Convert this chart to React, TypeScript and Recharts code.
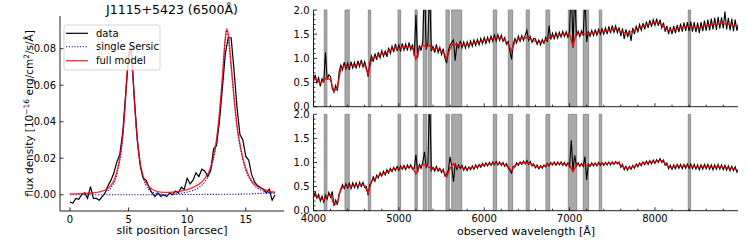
import React from "react";
import { LineChart, ComposedChart, Line, XAxis, YAxis, ReferenceArea } from "recharts";

const FONT = "'DejaVu Sans', sans-serif";

// ---- left panel: slit profile at 6500 A ----
const slitPos = [
  0, 0.25, 0.5, 0.75, 1, 1.25, 1.5, 1.75, 2, 2.25, 2.5, 2.75, 3, 3.25, 3.5, 3.75, 4, 4.25, 4.5, 4.75,
  5, 5.25, 5.5, 5.75, 6, 6.25, 6.5, 6.75, 7, 7.25, 7.5, 7.75, 8, 8.25, 8.5, 8.75, 9, 9.25, 9.5, 9.75,
  10, 10.25, 10.5, 10.75, 11, 11.25, 11.5, 11.75, 12, 12.25, 12.5, 12.75, 13, 13.25, 13.5, 13.75, 14, 14.25, 14.5, 14.75,
  15, 15.25, 15.5, 15.75, 16, 16.25, 16.5, 16.75, 17, 17.25, 17.5,
];
const slitFlux = [
  -0.004, -0.0045, -0.002, -0.0025, 0.0, 0.001, -0.002, 0.0045, -0.002, -0.002, -0.003, -0.001, 0.001, 0.005, 0.008, 0.012, 0.018, 0.022, 0.034, 0.055,
  0.076, 0.079, 0.052, 0.03, 0.016, 0.009, 0.008, 0.004, 0.001, -0.001, 0.001, -0.001, 0.0, -0.001, 0.001, 0.0, 0.002, 0.001, 0.004, 0.003,
  0.009, 0.006, 0.008, 0.012, 0.01, 0.014, 0.013, 0.01, 0.013, 0.025, 0.027, 0.04, 0.058, 0.077, 0.086, 0.086, 0.068, 0.048, 0.033, 0.03,
  0.021, 0.019, 0.011, 0.007, 0.005, 0.004, 0.003, 0.001, 0.003, -0.003, 0.0,
];
const modelPos = [
  0, 0.5, 1, 1.5, 2, 2.5, 3, 3.25, 3.5, 3.75, 4, 4.25, 4.5, 4.7, 4.85, 5.0, 5.12, 5.25, 5.4, 5.55, 5.75, 6.0, 6.25, 6.5,
  7, 7.5, 8, 8.5, 9, 9.5, 10, 10.5, 11, 11.5, 12, 12.25, 12.5, 12.75, 13, 13.2, 13.38, 13.55, 13.75, 14, 14.25, 14.5, 14.75,
  15, 15.5, 16, 16.5, 17, 17.5,
];
const modelFlux = [
  0.0004, 0.0005, 0.0006, 0.0008, 0.0011, 0.0016, 0.0026, 0.0036, 0.0052, 0.0078, 0.0125, 0.02, 0.032, 0.048, 0.064, 0.077, 0.081, 0.076, 0.062, 0.046, 0.03, 0.017, 0.01, 0.0065,
  0.003, 0.0017, 0.0013, 0.0013, 0.0016, 0.0021, 0.0028, 0.004, 0.0058, 0.0088, 0.015, 0.021, 0.03, 0.044, 0.064, 0.082, 0.091, 0.086, 0.071, 0.053, 0.038, 0.028, 0.02,
  0.0145, 0.0075, 0.0045, 0.003, 0.002, 0.0014,
];
const sersicFlatPos = [0, 3, 6, 9, 12, 15, 16.5, 17.5];
const sersicFlat = [0, 0, 0, 0.0001, 0.0002, 0.0004, 0.0008, 0.0012];
const sersicAPos = [3, 3.5, 4, 4.5, 4.85, 5.12, 5.4, 5.75, 6.25, 7, 8];
const sersicA = [0.0015, 0.0038, 0.011, 0.031, 0.063, 0.08, 0.061, 0.029, 0.009, 0.0015, 0.0003];
const sersicBPos = [9, 10, 11, 11.5, 12, 12.5, 13, 13.38, 13.75, 14.25, 14.75, 15.5, 16.5, 17.5];
const sersicB = [0.0005, 0.0015, 0.004, 0.007, 0.0135, 0.029, 0.063, 0.09, 0.07, 0.037, 0.019, 0.007, 0.002, 0.0007];

// ---- right panels: spectra ----
// model grid (40 A)
const wave = [
  4000, 4040, 4080, 4120, 4160, 4200, 4240, 4280, 4320, 4360,
  4400, 4440, 4480, 4520, 4560, 4600, 4640, 4680, 4720, 4760,
  4800, 4840, 4880, 4920, 4960, 5000, 5040, 5080, 5120, 5160,
  5200, 5240, 5280, 5320, 5360, 5400, 5440, 5480, 5520, 5560,
  5600, 5640, 5680, 5720, 5760, 5800, 5840, 5880, 5920, 5960,
  6000, 6040, 6080, 6120, 6160, 6200, 6240, 6280, 6320, 6360,
  6400, 6440, 6480, 6520, 6560, 6600, 6640, 6680, 6720, 6760,
  6800, 6840, 6880, 6920, 6960, 7000, 7040, 7080, 7120, 7160,
  7200, 7240, 7280, 7320, 7360, 7400, 7440, 7480, 7520, 7560,
  7600, 7640, 7680, 7720, 7760, 7800, 7840, 7880, 7920, 7960,
  8000, 8040, 8080, 8120, 8160, 8200, 8240, 8280, 8320, 8360,
  8400, 8440, 8480, 8520, 8560, 8600, 8640, 8680, 8720, 8760,
  8800, 8840, 8880, 8920, 8960,
];
const topModel = [
  0.6, 0.55, 0.48, 0.55, 0.6, 0.55, 0.32, 0.4, 0.78, 0.85,
  0.82, 0.86, 0.84, 0.87, 0.9, 0.86, 0.68, 0.98, 1.02, 1.05,
  1.1, 1.08, 1.15, 1.18, 1.22, 1.2, 1.24, 1.22, 1.25, 1.22,
  0.98, 1.2, 1.28, 1.24, 1.27, 1.18, 1.22, 1.16, 1.13, 1.0,
  1.2, 1.32, 1.26, 1.3, 1.27, 1.28, 1.3, 1.32, 1.33, 1.35,
  1.37, 1.38, 1.4, 1.42, 1.43, 1.42, 1.38, 1.3, 1.15, 1.35,
  1.4, 1.42, 1.43, 1.42, 1.38, 1.35, 1.33, 1.34, 1.38, 1.42,
  1.46, 1.47, 1.48, 1.5, 1.49, 1.5, 1.25, 1.52, 1.5, 1.51,
  1.5, 1.52, 1.52, 1.54, 1.55, 1.56, 1.57, 1.58, 1.6, 1.6,
  1.55, 1.53, 1.52, 1.55, 1.58, 1.62, 1.65, 1.68, 1.7, 1.72,
  1.74, 1.74, 1.7, 1.62, 1.58, 1.58, 1.6, 1.62, 1.64, 1.66,
  1.66, 1.65, 1.64, 1.62, 1.66, 1.67, 1.69, 1.7, 1.71, 1.72,
  1.72, 1.71, 1.7, 1.68, 1.67,
];
const botModel = [
  0.33, 0.3, 0.25, 0.22, 0.3, 0.33, 0.12, 0.16, 0.46, 0.5,
  0.52, 0.5, 0.53, 0.52, 0.55, 0.52, 0.36, 0.62, 0.66, 0.72,
  0.76, 0.78, 0.82, 0.85, 0.87, 0.88, 0.9, 0.89, 0.92, 0.9,
  0.76, 0.92, 0.96, 0.94, 0.9, 0.86, 0.88, 0.84, 0.82, 0.7,
  0.88, 0.98, 0.9, 0.92, 0.88, 0.87, 0.89, 0.9, 0.92, 0.94,
  0.95, 0.96, 0.97, 0.98, 0.98, 0.97, 0.95, 0.92, 0.82, 0.94,
  0.97, 0.99, 1.0, 0.99, 0.96, 0.92, 0.9, 0.91, 0.94, 0.96,
  0.98, 0.97, 0.98, 0.97, 0.96, 0.95, 0.81, 0.96, 0.95, 0.95,
  0.94, 0.95, 0.96, 0.96, 0.97, 0.97, 0.98, 0.98, 0.99, 1.0,
  0.95, 0.89, 0.88, 0.9, 0.92, 0.95, 0.97, 0.99, 1.0, 1.01,
  1.02, 1.04, 1.04, 0.98, 0.91, 0.9, 0.92, 0.93, 0.92, 0.93,
  0.93, 0.92, 0.91, 0.9, 0.91, 0.92, 0.91, 0.9, 0.91, 0.91,
  0.9, 0.89, 0.88, 0.88, 0.84,
];
// observed spectra (20 A sampling)
const dataWave = [
  4000, 4020, 4040, 4060, 4080, 4100, 4120, 4140, 4160, 4180,
  4200, 4220, 4240, 4260, 4280, 4300, 4320, 4340, 4360, 4380,
  4400, 4420, 4440, 4460, 4480, 4500, 4520, 4540, 4560, 4580,
  4600, 4620, 4640, 4660, 4680, 4700, 4720, 4740, 4760, 4780,
  4800, 4820, 4840, 4860, 4880, 4900, 4920, 4940, 4960, 4980,
  5000, 5020, 5040, 5060, 5080, 5100, 5120, 5140, 5160, 5180,
  5200, 5220, 5240, 5260, 5280, 5300, 5320, 5340, 5360, 5380,
  5400, 5420, 5440, 5460, 5480, 5500, 5520, 5540, 5560, 5580,
  5600, 5620, 5640, 5660, 5680, 5700, 5720, 5740, 5760, 5780,
  5800, 5820, 5840, 5860, 5880, 5900, 5920, 5940, 5960, 5980,
  6000, 6020, 6040, 6060, 6080, 6100, 6120, 6140, 6160, 6180,
  6200, 6220, 6240, 6260, 6280, 6300, 6320, 6340, 6360, 6380,
  6400, 6420, 6440, 6460, 6480, 6500, 6520, 6540, 6560, 6580,
  6600, 6620, 6640, 6660, 6680, 6700, 6720, 6740, 6760, 6780,
  6800, 6820, 6840, 6860, 6880, 6900, 6920, 6940, 6960, 6980,
  7000, 7020, 7040, 7060, 7080, 7100, 7120, 7140, 7160, 7180,
  7200, 7220, 7240, 7260, 7280, 7300, 7320, 7340, 7360, 7380,
  7400, 7420, 7440, 7460, 7480, 7500, 7520, 7540, 7560, 7580,
  7600, 7620, 7640, 7660, 7680, 7700, 7720, 7740, 7760, 7780,
  7800, 7820, 7840, 7860, 7880, 7900, 7920, 7940, 7960, 7980,
  8000, 8020, 8040, 8060, 8080, 8100, 8120, 8140, 8160, 8180,
  8200, 8220, 8240, 8260, 8280, 8300, 8320, 8340, 8360, 8380,
  8400, 8420, 8440, 8460, 8480, 8500, 8520, 8540, 8560, 8580,
  8600, 8620, 8640, 8660, 8680, 8700, 8720, 8740, 8760, 8780,
  8800, 8820, 8840, 8860, 8880, 8900, 8920, 8940, 8960, 8980,
];
const topData = [
  0.52, 0.66, 0.5, 0.6, 0.42, 0.58, 0.5, 1.12, 0.56, 0.66,
  0.62, 0.38, 0.3, 0.44, 0.33, 0.72, 0.86, 0.76, 0.92, 0.78,
  0.9, 0.76, 0.93, 0.8, 0.92, 0.79, 0.95, 0.83, 0.97, 0.82,
  0.93, 0.8, 0.62, 0.9, 1.05, 0.93, 1.1, 0.97, 1.13, 1.01,
  1.16, 1.04, 1.15, 1.03, 1.22, 1.1, 1.25, 1.13, 1.3, 1.15,
  1.28, 1.14, 1.31, 1.17, 1.3, 1.16, 1.33, 1.18, 1.29, 1.05,
  1.9, 1.02, 1.27, 1.16, 1.35, 2.6, 1.18, 1.32, 2.5, 1.15,
  1.25, 1.12, 1.29, 1.12, 1.23, 1.08, 1.2, 1.0, 0.9, 1.16,
  1.27, 1.33, 1.38, 0.95, 1.3, 1.22, 1.36, 1.22, 1.34, 1.21,
  1.34, 1.23, 1.36, 1.25, 1.38, 1.27, 1.39, 1.28, 1.41, 1.3,
  1.43, 1.31, 1.44, 1.33, 1.46, 1.35, 1.48, 1.36, 1.49, 1.37,
  1.48, 1.35, 1.43, 1.29, 1.35, 1.16, 0.98, 1.3, 1.41, 1.32,
  1.46, 1.35, 1.47, 1.37, 1.48, 1.58, 1.37, 1.45, 1.33, 1.41,
  1.4, 1.29, 1.38, 1.28, 1.39, 1.31, 1.43, 1.34, 1.68, 1.39,
  1.52, 1.41, 1.53, 1.42, 1.54, 1.44, 1.56, 1.45, 1.55, 1.44,
  1.56, 2.5, 1.22, 2.4, 1.46, 1.56, 1.45, 1.57, 1.47, 2.3,
  1.34, 1.56, 1.46, 1.58, 1.47, 1.59, 1.48, 1.6, 1.5, 1.61,
  1.5, 1.63, 1.5, 1.66, 1.52, 1.68, 1.54, 1.67, 1.53, 1.64,
  1.46, 1.62, 1.4, 1.6, 1.44, 1.58, 1.36, 1.63, 1.5, 1.66,
  1.55, 1.7, 1.58, 1.73, 1.6, 1.76, 1.63, 1.79, 1.65, 1.8,
  1.68, 1.82, 1.67, 1.8, 1.63, 1.74, 1.55, 1.67, 1.5, 1.65,
  1.5, 1.67, 1.52, 1.69, 1.54, 1.72, 1.55, 1.74, 1.57, 1.75,
  1.56, 1.76, 1.55, 1.75, 1.54, 1.74, 1.52, 1.75, 1.56, 1.78,
  1.57, 1.8, 1.58, 1.82, 1.6, 1.84, 1.59, 1.86, 1.62, 1.85,
  1.62, 1.97, 1.6, 1.84, 1.58, 1.82, 1.56, 1.8, 1.57, 1.74,
];
const botData = [
  0.28, 0.38, 0.26, 0.34, 0.2, 0.3, 0.18, 0.32, 0.24, 0.38,
  0.28, 0.4, 0.1, 0.22, 0.12, 0.36, 0.42, 0.54, 0.46, 0.56,
  0.47, 0.57, 0.46, 0.58, 0.48, 0.58, 0.47, 0.59, 0.5, 0.59,
  0.48, 0.5, 0.32, 0.55, 0.58, 0.7, 0.61, 0.74, 0.68, 0.79,
  0.72, 0.82, 0.74, 0.85, 0.78, 0.88, 0.81, 0.9, 0.83, 0.92,
  0.84, 0.93, 0.86, 0.94, 0.85, 0.95, 0.88, 0.95, 0.86, 0.88,
  1.16, 0.8, 0.96, 0.88, 1.0, 1.22, 0.9, 0.97, 2.4, 0.84,
  0.9, 0.82, 0.92, 0.82, 0.88, 0.79, 0.86, 0.72, 0.75, 0.84,
  1.12, 0.9, 0.6, 0.98, 0.86, 0.95, 0.88, 0.94, 0.84, 0.92,
  0.83, 0.91, 0.85, 0.93, 0.86, 0.95, 0.88, 0.96, 0.9, 0.98,
  0.92, 0.99, 0.93, 1.0, 0.94, 1.01, 0.95, 1.02, 0.95, 1.01,
  0.94, 1.0, 0.92, 0.98, 0.89, 0.84, 0.78, 0.92, 0.91, 0.99,
  0.94, 1.01, 0.96, 1.03, 0.97, 1.04, 0.96, 1.02, 0.93, 0.97,
  0.89, 0.95, 0.87, 0.93, 0.88, 0.95, 0.91, 0.98, 0.93, 1.0,
  0.95, 1.01, 0.94, 1.01, 0.95, 1.01, 0.94, 1.0, 0.93, 0.99,
  0.92, 1.46, 0.84, 1.15, 0.93, 0.99, 0.92, 0.98, 0.92, 1.12,
  0.64, 0.97, 0.92, 0.99, 0.93, 0.99, 0.93, 1.0, 0.94, 1.0,
  0.94, 1.0, 0.95, 1.01, 0.95, 1.01, 0.96, 1.02, 0.97, 1.01,
  0.9, 0.96, 0.85, 0.92, 0.84, 0.92, 0.86, 0.94, 0.88, 0.97,
  0.91, 0.99, 0.93, 1.01, 0.95, 1.03, 0.96, 1.04, 0.97, 1.05,
  0.98, 1.06, 1.0, 1.08, 1.0, 1.05, 0.94, 0.99, 0.87, 0.94,
  0.86, 0.95, 0.87, 0.96, 0.88, 0.96, 0.87, 0.96, 0.88, 0.97,
  0.88, 0.97, 0.87, 0.96, 0.86, 0.95, 0.85, 0.95, 0.86, 0.96,
  0.87, 0.96, 0.86, 0.95, 0.85, 0.95, 0.86, 0.96, 0.86, 0.95,
  0.85, 0.94, 0.84, 0.93, 0.83, 0.92, 0.83, 0.91, 0.8, 0.87,
];
// masked wavelength windows (grey bands)
const maskStart = [4126, 4369, 4642, 4990, 5189, 5286, 5345, 5552, 5619, 6106, 6282, 6492, 6723, 6985, 7160, 7348, 8390];
const maskEnd = [4157, 4419, 4670, 5021, 5216, 5326, 5380, 5591, 5736, 6146, 6333, 6528, 6767, 7083, 7223, 7376, 8418];

const slitTicks = [0, 5, 10, 15];
const fluxTicks = [0, 0.02, 0.04, 0.06, 0.08];
const waveTicks = [
  4000, 4200, 4400, 4600, 4800, 5000, 5200, 5400, 5600, 5800, 6000, 6200, 6400, 6600, 6800,
  7000, 7200, 7400, 7600, 7800, 8000, 8200, 8400, 8600, 8800,
];
const normTicks = [0, 0.1, 0.2, 0.3, 0.4, 0.5, 0.6, 0.7, 0.8, 0.9, 1.0, 1.1, 1.2, 1.3, 1.4, 1.5, 1.6, 1.7, 1.8, 1.9, 2.0];

const pts = (xs: number[], ys: number[]) => xs.map((x, i) => ({ x, y: ys[i] }));

type Side = "bottom" | "top" | "left" | "right";

function tickFn(side: Side, isMajor: (v: number) => boolean, fmt?: (v: number) => string) {
  return (p: any) => {
    const { x, y, payload } = p;
    const v = payload.value as number;
    const big = isMajor(v);
    const len = big ? 3.5 : 2;
    let x2 = x;
    let y2 = y;
    if (side === "bottom") y2 = y - len;
    if (side === "top") y2 = y + len;
    if (side === "left") x2 = x + len;
    if (side === "right") x2 = x - len;
    const txt = fmt && big ? fmt(v) : null;
    return (
      <g>
        <line x1={x} y1={y} x2={x2} y2={y2} stroke="#000" strokeWidth={0.8} />
        {txt !== null && side === "bottom" && (
          <text x={x} y={y + 11.5} textAnchor="middle" fontSize={10} fontFamily={FONT} fill="#000">
            {txt}
          </text>
        )}
        {txt !== null && side === "left" && (
          <text x={x - 4} y={y + 3.6} textAnchor="end" fontSize={10} fontFamily={FONT} fill="#000">
            {txt}
          </text>
        )}
      </g>
    );
  };
}

const axisLine = { stroke: "#222", strokeWidth: 1 };
const allMajor = () => true;
const waveMajor = (v: number) => v % 1000 === 0;
const normMajor = (v: number) => Math.abs(v * 2 - Math.round(v * 2)) < 1e-6;

function SpectrumPanel({ model, data, showX, height, top, bottomH, marginTop }: any) {
  const xDom: [number, number] = [4000, 8973];
  return (
    <div style={{ position: "absolute", left: 270, top, width: 477, height }}>
      <ComposedChart width={477} height={height} margin={{ top: marginTop, right: 9, bottom: 0, left: 0 }}>
        <XAxis xAxisId="b" type="number" dataKey="x" domain={xDom} allowDataOverflow ticks={waveTicks} interval={0}
          height={bottomH} tickSize={0} tickMargin={0} axisLine={axisLine} tickLine={false}
          tick={tickFn("bottom", waveMajor, showX ? (v) => String(v) : undefined)} />
        <XAxis xAxisId="t" orientation="top" type="number" dataKey="x" domain={xDom} allowDataOverflow ticks={waveTicks}
          interval={0} height={0} tickSize={0} tickMargin={0} axisLine={axisLine} tickLine={false} tick={tickFn("top", waveMajor)} />
        <YAxis yAxisId="l" type="number" domain={[0, 2]} allowDataOverflow ticks={normTicks} interval={0} width={43.5}
          tickSize={0} tickMargin={0} axisLine={axisLine} tickLine={false} tick={tickFn("left", normMajor, (v) => v.toFixed(1))} />
        <YAxis yAxisId="r" orientation="right" type="number" domain={[0, 2]} allowDataOverflow ticks={normTicks} interval={0}
          width={0} tickSize={0} tickMargin={0} axisLine={axisLine} tickLine={false} tick={tickFn("right", normMajor)} />
        {maskStart.map((s, i) => (
          <ReferenceArea key={i} xAxisId="b" yAxisId="l" x1={s} x2={maskEnd[i]} y1={0} y2={2}
            fill="#a3a3a3" fillOpacity={0.95} stroke="#808080" strokeWidth={0.8} />
        ))}
        <Line xAxisId="b" yAxisId="l" data={pts(dataWave, data)} dataKey="y" type="linear" stroke="#000" strokeWidth={1.1}
          dot={false} isAnimationActive={false} />
        <Line xAxisId="b" yAxisId="l" data={pts(wave, model)} dataKey="y" type="linear" stroke="#ff0000" strokeWidth={1.3}
          dot={false} isAnimationActive={false} />
      </ComposedChart>
    </div>
  );
}

export default function App() {
  const xDom: [number, number] = [-0.85, 18.26];
  const yDom: [number, number] = [-0.0089, 0.0979];
  return (
    <div style={{ position: "absolute", left: 0, top: 0, width: 747, height: 249, background: "#fff", fontFamily: FONT }}>
      <div style={{ position: "absolute", left: 0, top: 0, width: 300, height: 249 }}>
        <LineChart width={300} height={249} margin={{ top: 16, right: 16, bottom: 0, left: 0 }}>
          <XAxis xAxisId="b" type="number" dataKey="x" domain={xDom} allowDataOverflow ticks={slitTicks} interval={0}
            height={38} tickSize={0} tickMargin={0} axisLine={axisLine} tickLine={false}
            tick={tickFn("bottom", allMajor, (v) => String(v))} />
          <XAxis xAxisId="t" orientation="top" type="number" dataKey="x" domain={xDom} allowDataOverflow ticks={slitTicks}
            interval={0} height={0} tickSize={0} tickMargin={0} axisLine={axisLine} tickLine={false} tick={tickFn("top", allMajor)} />
          <YAxis yAxisId="l" type="number" domain={yDom} allowDataOverflow ticks={fluxTicks} interval={0} width={60}
            tickSize={0} tickMargin={0} axisLine={axisLine} tickLine={false} tick={tickFn("left", allMajor, (v) => v.toFixed(2))} />
          <YAxis yAxisId="r" orientation="right" type="number" domain={yDom} allowDataOverflow ticks={fluxTicks} interval={0}
            width={0} tickSize={0} tickMargin={0} axisLine={axisLine} tickLine={false} tick={tickFn("right", allMajor)} />
          <Line xAxisId="b" yAxisId="l" data={pts(slitPos, slitFlux)} dataKey="y" type="linear" stroke="#000" strokeWidth={1.2}
            dot={false} isAnimationActive={false} />
          <Line xAxisId="b" yAxisId="l" data={pts(sersicFlatPos, sersicFlat)} dataKey="y" type="monotone" stroke="#0000ff"
            strokeWidth={1.1} strokeDasharray="1.2 1.6" dot={false} isAnimationActive={false} />
          <Line xAxisId="b" yAxisId="l" data={pts(sersicAPos, sersicA)} dataKey="y" type="monotone" stroke="#0000ff"
            strokeWidth={1.1} strokeDasharray="1.2 1.6" dot={false} isAnimationActive={false} />
          <Line xAxisId="b" yAxisId="l" data={pts(sersicBPos, sersicB)} dataKey="y" type="monotone" stroke="#0000ff"
            strokeWidth={1.1} strokeDasharray="1.2 1.6" dot={false} isAnimationActive={false} />
          <Line xAxisId="b" yAxisId="l" data={pts(modelPos, modelFlux)} dataKey="y" type="monotone" stroke="#ff0000"
            strokeOpacity={0.8} strokeWidth={1.4} dot={false} isAnimationActive={false} />
        </LineChart>
      </div>

      <SpectrumPanel model={topModel} data={topData} showX={false} top={0} height={114} bottomH={7.3} marginTop={10} />
      <SpectrumPanel model={botModel} data={botData} showX={true} top={110} height={139} bottomH={38.3} marginTop={4.3} />

      <svg width={747} height={249} style={{ position: "absolute", left: 0, top: 0, pointerEvents: "none" }}>
        <text x={172} y={14} textAnchor="middle" fontSize={12.5} fontFamily={FONT} fill="#000">
          J1115+5423 (6500Å)
        </text>
        <text x={172} y={234} textAnchor="middle" fontSize={11} fontFamily={FONT} fill="#000">
          slit position [arcsec]
        </text>
        <text x={526} y={235} textAnchor="middle" fontSize={11} fontFamily={FONT} fill="#000">
          observed wavelength [Å]
        </text>
        <text transform="translate(33,113.5) rotate(-90)" textAnchor="middle" fontSize={10.5} fontFamily={FONT} fill="#000">
          flux density [10
          <tspan dy={-4} fontSize={7.5}>−16</tspan>
          <tspan dy={4}> erg/cm</tspan>
          <tspan dy={-4} fontSize={7.5}>2</tspan>
          <tspan dy={4}>/s/Å]</tspan>
        </text>
        <g>
          <rect x={64} y={25} width={96} height={45} rx={2} fill="#fff" fillOpacity={0.8} stroke="#cccccc" strokeWidth={0.8} />
          <line x1={66} y1={33.3} x2={88} y2={33.3} stroke="#000" strokeWidth={1.2} />
          <line x1={66} y1={46.7} x2={88} y2={46.7} stroke="#0000ff" strokeWidth={1.1} strokeDasharray="1.2 1.6" />
          <line x1={66} y1={60.7} x2={88} y2={60.7} stroke="#ff0000" strokeOpacity={0.8} strokeWidth={1.4} />
          <text x={96} y={37} fontSize={10} fontFamily={FONT} fill="#000">data</text>
          <text x={96} y={50.4} fontSize={10} fontFamily={FONT} fill="#000">single Sersic</text>
          <text x={96} y={64.4} fontSize={10} fontFamily={FONT} fill="#000">full model</text>
        </g>
      </svg>
    </div>
  );
}
